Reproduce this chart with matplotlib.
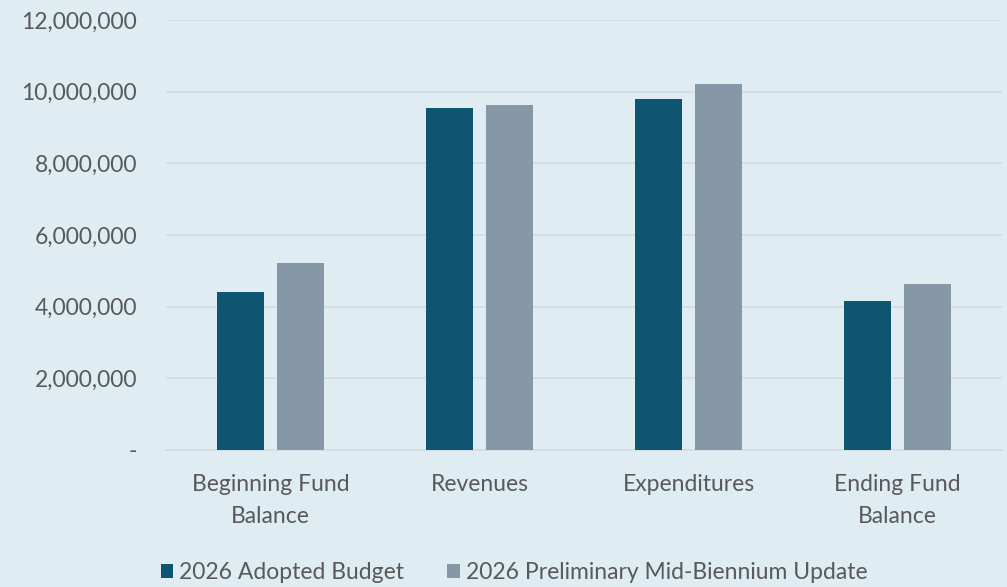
import matplotlib
matplotlib.use("Agg")
import matplotlib.pyplot as plt
import numpy as np
from matplotlib.ticker import FuncFormatter

categories = ["Beginning Fund\nBalance", "Revenues", "Expenditures", "Ending Fund\nBalance"]
series_names = ["2026 Adopted Budget", "2026 Preliminary Mid-Biennium Update"]
adopted = [4410000, 9550000, 9800000, 4160000]
preliminary = [5220000, 9640000, 10220000, 4640000]
yticks = [0, 2000000, 4000000, 6000000, 8000000, 10000000, 12000000]

bg = "#dfedf2"
dark = "#0f5470"
grey = "#8698a8"
txt = "#595959"

plt.rcParams["font.family"] = ["Lato", "DejaVu Sans"]

fig = plt.figure(figsize=(10.07, 5.87), dpi=100, facecolor=bg)
ax = fig.add_axes([0.165, 0.2334, 0.83, 0.7326])
ax.set_facecolor(bg)

x = np.arange(len(categories))
w = 0.225
off = 0.142
ax.bar(x - off, adopted, w, color=dark, label=series_names[0], zorder=3)
ax.bar(x + off, preliminary, w, color=grey, label=series_names[1], zorder=3)

ax.set_xlim(-0.5, 3.5)
ax.set_ylim(0, 12000000)
ax.set_yticks(yticks)
ax.yaxis.set_major_formatter(FuncFormatter(lambda v, p: "-" if v == 0 else f"{int(v):,}"))
ax.grid(axis="y", color="#d3dbe3", lw=1.2, zorder=0)
for s in ["top", "right", "left"]:
    ax.spines[s].set_visible(False)
ax.spines["bottom"].set_color("#d3dbe3")
ax.spines["bottom"].set_linewidth(1.2)
ax.tick_params(axis="both", length=0, colors=txt)
ax.tick_params(axis="y", pad=21, labelsize=16.5)
ax.tick_params(axis="x", pad=17, labelsize=16.5)
ax.set_xticks(x)
ax.set_xticklabels(categories, linespacing=1.65)

fig.legend(loc="center left", bbox_to_anchor=(0.139, 0.025), ncol=2, frameon=False,
           fontsize=16.5, labelcolor=txt, handlelength=0.55, handleheight=0.55,
           handletextpad=0.25, columnspacing=1.9)

fig.savefig("out.png", dpi=100, facecolor=bg)
